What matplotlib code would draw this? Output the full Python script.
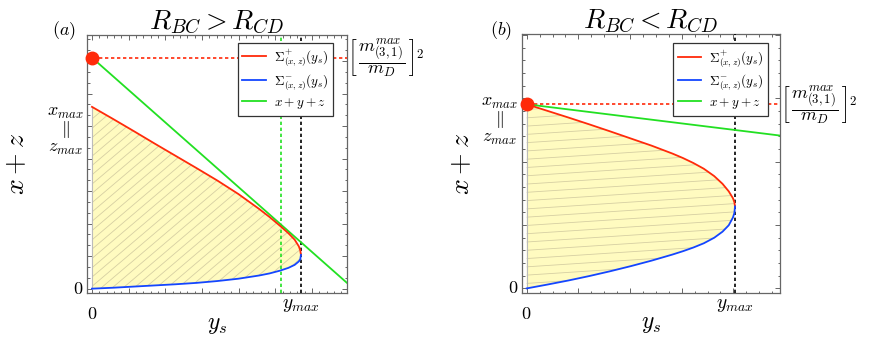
import numpy as np
import matplotlib
matplotlib.use("Agg")
import matplotlib.pyplot as plt
from matplotlib.patches import Polygon
from matplotlib.ticker import MultipleLocator, AutoMinorLocator

plt.rcParams['mathtext.fontset'] = 'cm'
plt.rcParams['font.family'] = ['DejaVu Serif']

# ---- panel (a): R_BC > R_CD  (y_s in units of y_max, x+z in units of the kinematic endpoint)
ys_a = [0, 0.1, 0.2, 0.3, 0.4, 0.5, 0.6, 0.7, 0.8, 0.85, 0.9, 0.94, 0.97, 0.99, 0.997, 1.0]
sig_plus_a = [0.787, 0.735, 0.682, 0.628, 0.575, 0.522, 0.468, 0.410, 0.345, 0.310,
              0.272, 0.240, 0.212, 0.183, 0.165, 0.146]
sig_minus_a = [0.0, 0.004, 0.009, 0.014, 0.019, 0.025, 0.033, 0.043, 0.057, 0.066,
               0.078, 0.090, 0.103, 0.118, 0.128, 0.146]
green_a_x = [0.0, 1.219]
green_a_y = [1.0, 0.026]
endpoint_a = 1.0
ytangent_a = 0.904

# ---- panel (b): R_BC < R_CD
ys_b = [0, 0.1, 0.2, 0.3, 0.4, 0.5, 0.6, 0.7, 0.75, 0.8, 0.85, 0.9, 0.94, 0.97, 0.99, 0.997, 1.0]
sig_plus_b = [1.0, 0.964, 0.928, 0.891, 0.853, 0.814, 0.775, 0.732, 0.708, 0.681,
              0.650, 0.610, 0.568, 0.527, 0.490, 0.468, 0.445]
sig_minus_b = [0.0, 0.021, 0.043, 0.067, 0.093, 0.121, 0.151, 0.184, 0.202, 0.222,
               0.245, 0.275, 0.308, 0.343, 0.385, 0.410, 0.445]
green_b_x = [0.0, 1.216]
green_b_y = [1.0, 0.830]
endpoint_b = 1.0

RED = '#ff2a0a'
BLUE = '#1446ff'
GREEN = '#22e022'
FILL = '#fffbc0'
HATCH = '#d6cfa3'
FRAME = '#666666'

legend_labels = [r'$\Sigma^{+}_{(x,z)}(y_s)$', r'$\Sigma^{-}_{(x,z)}(y_s)$', r'$x+y+z$']
bracket = r'$\left[\,\dfrac{m^{max}_{(3,1)}}{m_D}\,\right]^2$'


def hatch_region(ax, xs, yplus, yminus, slope, step):
    poly = np.column_stack([np.r_[xs, xs[::-1]], np.r_[yplus, yminus[::-1]]])
    ax.fill(poly[:, 0], poly[:, 1], color=FILL, lw=0, zorder=1)
    clip = Polygon(poly, closed=True, transform=ax.transData, fill=False, lw=0)
    ax.add_patch(clip)
    for c in np.arange(-1.5, 1.5, step):
        ln, = ax.plot([0, 1], [c, c + slope], transform=ax.transAxes,
                      color=HATCH, lw=0.6, zorder=2)
        ln.set_clip_path(clip)
    ax.plot([0, 0], [yminus[0], yplus[0]], color='#bbbbbb', lw=0.8, zorder=2)


def style_frame(ax, xmaj, xsub, ymaj, ysub):
    for s in ax.spines.values():
        s.set_color(FRAME)
        s.set_linewidth(0.9)
    ax.xaxis.set_major_locator(MultipleLocator(xmaj))
    ax.xaxis.set_minor_locator(AutoMinorLocator(xsub))
    ax.yaxis.set_major_locator(MultipleLocator(ymaj))
    ax.yaxis.set_minor_locator(AutoMinorLocator(ysub))
    ax.tick_params(which='both', direction='in', top=True, right=True,
                   labelbottom=False, labelleft=False, color=FRAME, width=0.7)
    ax.tick_params(which='major', length=3.5)
    ax.tick_params(which='minor', length=1.8)


def panel(ax, xs, yp, ym, gx, gy, ymax, dot_y, title, tag, tag_x, xlim, ylim,
          xmax_y, ypad):
    xs = np.array(xs); yp = np.array(yp); ym = np.array(ym)
    ax.set_xlim(*xlim)
    ax.set_ylim(*ylim)
    ax.axhline(dot_y, color=RED, lw=1.2, ls=(0, (2, 1.6)), zorder=3)
    ax.axvline(ymax, color='black', lw=1.2, ls=(0, (2, 1.6)), zorder=3)
    l1, = ax.plot(xs, yp, color=RED, lw=1.3, zorder=5)
    l2, = ax.plot(xs, ym, color=BLUE, lw=1.3, zorder=5)
    l3, = ax.plot(gx, gy, color=GREEN, lw=1.3, zorder=4)
    ax.plot([0], [dot_y], 'o', color=RED, ms=9, clip_on=False, zorder=6)
    leg = ax.legend([l1, l2, l3], legend_labels, fontsize=9.5, fancybox=False,
                    edgecolor='#333333', framealpha=1, handlelength=1.8,
                    labelspacing=0.3, borderpad=0.35, handletextpad=0.6,
                    borderaxespad=0)
    leg.get_frame().set_linewidth(0.9)
    ax.set_title(title, fontsize=20, pad=4)
    ax.text(tag_x, 1.015, tag, transform=ax.transAxes, fontsize=13,
            ha='center', va='center')
    ax.set_xlabel(r'$y_s$', fontsize=17, labelpad=14)
    ax.set_ylabel(r'$x+z$', fontsize=20, labelpad=ypad)
    ax.text(0, -0.045, r'$0$', transform=ax.get_xaxis_transform(), fontsize=13,
            ha='center', va='top')
    ax.text(ymax, -0.012, r'$y_{max}$', transform=ax.get_xaxis_transform(),
            fontsize=14, ha='center', va='top')
    ax.text(-0.015, 0, r'$0$', transform=ax.get_yaxis_transform(), fontsize=13,
            ha='right', va='center')
    ax.text(-0.015, xmax_y, '$x_{max}$\n$\\Vert$\n$z_{max}$',
            transform=ax.get_yaxis_transform(), fontsize=13, ha='right',
            va='center', linespacing=0.85, multialignment='center')
    ax.text(1.005, dot_y, bracket, transform=ax.get_yaxis_transform(),
            fontsize=13, ha='left', va='center')
    return leg


fig = plt.figure(figsize=(8.72, 3.40), dpi=100)
ax1 = fig.add_axes([0.1003, 0.1374, 0.2973, 0.7597])
ax2 = fig.add_axes([0.5986, 0.1382, 0.2959, 0.7610])

hatch_region(ax1, np.array(ys_a), np.array(sig_plus_a), np.array(sig_minus_a), 0.85, 0.036)
leg1 = panel(ax1, ys_a, sig_plus_a, sig_minus_a, green_a_x, green_a_y, endpoint_a, 1.0,
             r'$R_{BC} > R_{CD}$', r'$(a)$', -0.09, (-0.0215, 1.219), (-0.02, 1.098),
             0.687, 41)
ax1.axvline(ytangent_a, color=GREEN, lw=1.2, ls=(0, (2, 1.6)), zorder=3)
leg1.set_bbox_to_anchor((0.947, 0.969), transform=ax1.transAxes)
leg1._loc = 1
style_frame(ax1, 0.1755, 5, 0.1407, 3)

hatch_region(ax2, np.array(ys_b), np.array(sig_plus_b), np.array(sig_minus_b), 0.065, 0.032)
leg2 = panel(ax2, ys_b, sig_plus_b, sig_minus_b, green_b_x, green_b_y, endpoint_b, 1.0,
             r'$R_{BC} < R_{CD}$', r'$(b)$', -0.08, (-0.0226, 1.216), (-0.025, 1.38),
             0.915, 34)
leg2.set_bbox_to_anchor((0.955, 0.966), transform=ax2.transAxes)
leg2._loc = 1
style_frame(ax2, 0.248, 4, 0.344, 5)

fig.savefig('out.png', dpi=100)
